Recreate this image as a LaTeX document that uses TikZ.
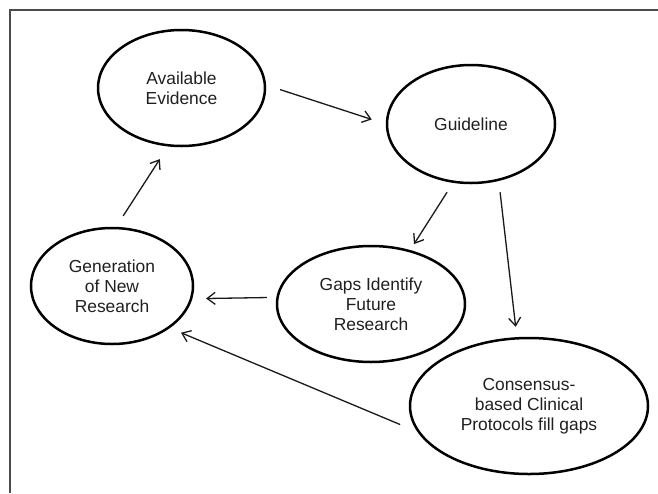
\documentclass[tikz,border=0pt]{standalone}
\usepackage{fontspec}
\setmainfont{Liberation Sans}
\usetikzlibrary{shapes.geometric,arrows.meta}
\begin{document}
\begin{tikzpicture}[x=1pt,y=-1pt,
  bubble/.style={ellipse,draw=black,line width=2.5pt,inner sep=0pt,align=center,
    font=\fontsize{17.4}{20}\selectfont,text=black!88},
  link/.style={draw=black!90,line width=1.3pt,
    -{Straight Barb[length=8pt,width=12pt,line width=1.3pt]}},
  frame/.style={draw=black!70,line width=2pt}]
\useasboundingbox (0,0) rectangle (658,493);
\draw[frame] (9.5,493) -- (9.5,10) -- (658,10);

\node[bubble,minimum width=167pt,minimum height=116pt] (ae)  at (181.5,88) {Available\\Evidence};
\node[bubble,minimum width=168pt,minimum height=118pt] (gl)  at (471,124)  {Guideline};
\node[bubble,minimum width=188pt,minimum height=116pt] (gap) at (371,304)  {Gaps Identify\\Future\\Research};
\node[bubble,minimum width=162pt,minimum height=116pt] (gen) at (112,286)  {Generation\\of New\\Research};
\node[bubble,minimum width=238pt,minimum height=136pt] (con) at (529,406)  {Consensus-\\based Clinical\\Protocols fill gaps};

\draw[link,shorten <=14.7pt,shorten >=14.7pt] (ae.2) -- (gl.180);
\draw[link,shorten <=11pt,shorten >=7pt] (gl.-107) -- (gap.54);
\draw[link,shorten <=11.4pt,shorten >=10.4pt] (gl.-64) -- (con.100);
\draw[link,shorten <=9.5pt,shorten >=13.8pt] (gap.176) -- (gen.-9);
\draw[link,shorten <=18.7pt,shorten >=12pt] (con.193) -- (gen.-36);
\draw[link,shorten <=13pt,shorten >=15pt] (gen.86) -- (ae.-103);
\end{tikzpicture}
\end{document}
